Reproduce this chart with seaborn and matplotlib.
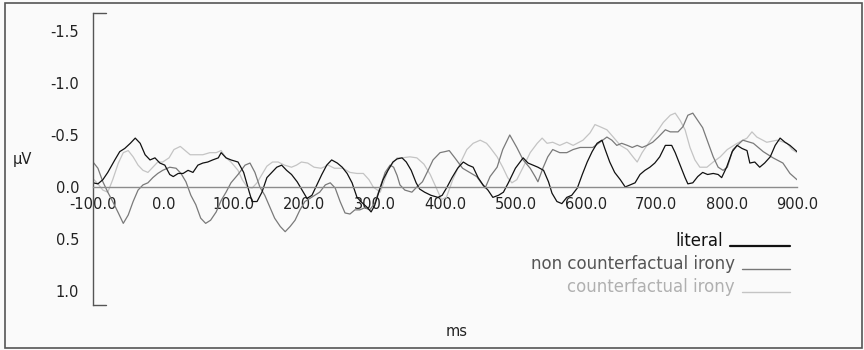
import numpy as np
import pandas as pd
import matplotlib
matplotlib.use("Agg")
import matplotlib.pyplot as plt
import seaborn as sns
from matplotlib.patches import Rectangle
from matplotlib.lines import Line2D

# ---- data ----
series_names = ["literal", "non counterfactual irony", "counterfactual irony"]

literal_ms = [-100, -93, -86, -79, -69, -62, -55, -47, -40, -33, -26, -19, -12, -5, 2, 9, 14, 21, 28, 35,
              42, 49, 56, 63, 70, 78, 82, 89, 96, 106, 114, 122, 126, 133, 140, 147, 154, 161, 168, 175,
              182, 190, 197, 204, 211, 218, 225, 232, 239, 247, 254, 261, 268, 275, 282, 290, 295, 300,
              306, 312, 319, 326, 332, 339, 345, 352, 359, 364, 371, 380, 390, 396, 403, 410, 418, 426,
              433, 440, 447, 454, 461, 468, 476, 483, 490, 500, 511, 518, 532, 540, 547, 552, 559, 566,
              573, 580, 588, 595, 602, 609, 616, 623, 627, 634, 641, 649, 656, 663, 670, 677, 684, 691,
              698, 705, 713, 722, 727, 734, 741, 745, 752, 759, 766, 773, 781, 788, 793, 800, 808, 815,
              822, 829, 833, 840, 847, 854, 862, 869, 876, 883, 890, 900]
literal_uv = [-0.04, -0.03, -0.07, -0.14, -0.26, -0.34, -0.37, -0.42, -0.47, -0.42, -0.31, -0.26, -0.28,
              -0.23, -0.21, -0.12, -0.10, -0.13, -0.13, -0.16, -0.14, -0.21, -0.23, -0.24, -0.26, -0.28,
              -0.33, -0.28, -0.26, -0.24, -0.14, 0.05, 0.14, 0.14, 0.05, -0.09, -0.14, -0.19, -0.21, -0.16,
              -0.12, -0.05, 0.03, 0.11, 0.08, -0.02, -0.12, -0.21, -0.26, -0.23, -0.19, -0.13, -0.04, 0.10,
              0.15, 0.20, 0.24, 0.18, 0.05, -0.07, -0.16, -0.24, -0.27, -0.28, -0.24, -0.16, -0.04, 0.02,
              0.05, 0.08, 0.10, 0.08, 0.00, -0.09, -0.18, -0.24, -0.21, -0.19, -0.09, -0.02, 0.03, 0.10,
              0.08, 0.05, -0.04, -0.18, -0.28, -0.23, -0.19, -0.16, -0.05, 0.06, 0.14, 0.16, 0.10, 0.08,
              0.01, -0.12, -0.24, -0.34, -0.42, -0.45, -0.37, -0.24, -0.14, -0.07, 0.00, -0.02, -0.04,
              -0.12, -0.16, -0.19, -0.23, -0.29, -0.40, -0.40, -0.33, -0.21, -0.09, -0.03, -0.04, -0.10,
              -0.14, -0.12, -0.13, -0.12, -0.09, -0.19, -0.34, -0.40, -0.37, -0.35, -0.23, -0.24, -0.19,
              -0.23, -0.29, -0.40, -0.47, -0.43, -0.40, -0.34]

noncf_ms = [-100, -93, -86, -79, -72, -64, -57, -50, -43, -36, -29, -22, -15, -8, -1, 9, 18, 25, 32, 39,
            46, 53, 60, 67, 75, 82, 89, 96, 106, 116, 123, 130, 137, 144, 151, 158, 166, 173, 180, 187,
            194, 201, 208, 215, 222, 230, 237, 244, 251, 258, 265, 272, 279, 286, 293, 300, 308, 315, 322,
            327, 332, 336, 343, 353, 360, 368, 376, 383, 393, 400, 406, 414, 425, 445, 457, 464, 474, 482,
            492, 502, 511, 521, 528, 532, 539, 546, 553, 563, 573, 582, 592, 602, 610, 620, 630, 637, 644,
            651, 659, 666, 673, 680, 687, 695, 703, 713, 720, 731, 738, 745, 752, 759, 766, 774, 781, 788,
            795, 801, 809, 823, 838, 852, 866, 880, 890, 900]
noncf_uv = [-0.24, -0.18, -0.05, 0.05, 0.14, 0.25, 0.35, 0.27, 0.14, 0.03, -0.02, -0.04, -0.09, -0.13,
            -0.16, -0.19, -0.18, -0.13, -0.05, 0.08, 0.17, 0.30, 0.35, 0.32, 0.24, 0.13, 0.05, -0.04, -0.12,
            -0.21, -0.23, -0.14, 0.00, 0.08, 0.19, 0.30, 0.38, 0.43, 0.38, 0.32, 0.22, 0.14, 0.11, 0.08,
            0.05, -0.02, -0.04, 0.01, 0.14, 0.25, 0.26, 0.22, 0.22, 0.20, 0.22, 0.16, 0.00, -0.14, -0.21,
            -0.19, -0.11, -0.02, 0.03, 0.05, 0.00, -0.05, -0.16, -0.26, -0.33, -0.34, -0.35, -0.28, -0.18,
            -0.10, 0.01, -0.10, -0.19, -0.36, -0.50, -0.38, -0.26, -0.18, -0.10, -0.05, -0.18, -0.29,
            -0.36, -0.33, -0.33, -0.36, -0.38, -0.38, -0.38, -0.43, -0.48, -0.45, -0.40, -0.42, -0.40,
            -0.38, -0.40, -0.38, -0.40, -0.43, -0.48, -0.55, -0.53, -0.53, -0.58, -0.69, -0.71, -0.64,
            -0.57, -0.42, -0.29, -0.19, -0.16, -0.19, -0.36, -0.45, -0.42, -0.34, -0.28, -0.23, -0.13,
            -0.07]

cf_ms = [-100, -93, -86, -79, -72, -64, -57, -50, -43, -36, -29, -22, -15, -8, -1, 8, 15, 24, 31, 38, 47,
         56, 66, 75, 82, 89, 96, 106, 112, 119, 126, 133, 140, 147, 155, 163, 172, 182, 189, 196, 205, 214,
         224, 234, 243, 255, 265, 275, 284, 292, 298, 308, 319, 326, 332, 339, 350, 360, 370, 379, 389,
         395, 402, 411, 421, 431, 440, 450, 459, 464, 474, 482, 489, 495, 502, 511, 521, 531, 538, 545,
         553, 563, 573, 582, 596, 606, 613, 620, 630, 639, 649, 659, 667, 673, 680, 687, 694, 701, 710,
         720, 727, 734, 741, 748, 755, 762, 772, 781, 791, 801, 815, 829, 836, 843, 857, 872, 886, 893,
         900]
cf_uv = [-0.08, -0.03, 0.03, 0.05, -0.07, -0.23, -0.33, -0.35, -0.29, -0.21, -0.16, -0.14, -0.19, -0.24,
         -0.24, -0.28, -0.36, -0.39, -0.35, -0.31, -0.31, -0.31, -0.33, -0.33, -0.35, -0.28, -0.24, -0.16,
         -0.07, 0.00, 0.01, -0.04, -0.12, -0.20, -0.24, -0.24, -0.21, -0.19, -0.21, -0.24, -0.23, -0.19,
         -0.18, -0.21, -0.18, -0.18, -0.14, -0.13, -0.13, -0.07, 0.00, 0.05, -0.16, -0.23, -0.28, -0.28,
         -0.29, -0.28, -0.22, -0.12, 0.03, 0.12, 0.10, -0.07, -0.22, -0.36, -0.42, -0.45, -0.42, -0.38,
         -0.29, -0.19, -0.09, -0.04, -0.07, -0.19, -0.33, -0.42, -0.47, -0.42, -0.43, -0.40, -0.43, -0.40,
         -0.45, -0.52, -0.60, -0.58, -0.55, -0.48, -0.40, -0.36, -0.29, -0.24, -0.33, -0.40, -0.47, -0.53,
         -0.62, -0.69, -0.71, -0.64, -0.55, -0.38, -0.26, -0.19, -0.19, -0.24, -0.29, -0.36, -0.42, -0.47,
         -0.53, -0.48, -0.43, -0.45, -0.42, -0.36, -0.33]

x_ticks = [-100, 0, 100, 200, 300, 400, 500, 600, 700, 800, 900]
x_tick_labels = ["-100.0", "0.0", "100.0", "200.0", "300.0", "400.0", "500.0", "600.0", "700.0", "800.0", "900.0"]
y_ticks = [-1.5, -1.0, -0.5, 0.0, 0.5, 1.0]
y_tick_labels = ["-1.5", "-1.0", "-0.5", "0.0", "0.5", "1.0"]

# ---- build long table ----
df = pd.concat([
    pd.DataFrame({"ms": literal_ms, "uV": literal_uv, "cond": series_names[0]}),
    pd.DataFrame({"ms": noncf_ms, "uV": noncf_uv, "cond": series_names[1]}),
    pd.DataFrame({"ms": cf_ms, "uV": cf_uv, "cond": series_names[2]}),
], ignore_index=True)

sns.set_style("white")
plt.rcParams["font.family"] = ["DejaVu Sans"]
plt.rcParams["axes.unicode_minus"] = False

W, H = 864, 350
fig = plt.figure(figsize=(W / 100, H / 100), dpi=100, facecolor="#fafafa")
ax = fig.add_axes([93 / W, 1 - 305 / H, 704 / W, 292 / H])
ax.set_facecolor("none")

palette = {series_names[0]: "#111111", series_names[1]: "#7a7a7a", series_names[2]: "#c4c4c4"}
sns.lineplot(data=df, x="ms", y="uV", hue="cond", hue_order=series_names[::-1], palette=palette,
             estimator=None, sort=True, linewidth=0.9, legend=False, ax=ax)

ax.set_xlim(-100, 900)
ax.set_ylim(1.135, -1.673)

# spines
for s in ["top", "right"]:
    ax.spines[s].set_visible(False)
ax.spines["left"].set_color("#555555")
ax.spines["left"].set_linewidth(1.0)
ax.spines["bottom"].set_position(("data", 0))
ax.spines["bottom"].set_color("#8c8c8c")
ax.spines["bottom"].set_linewidth(1.0)

# caps on the y spine
for yy in (0, 1):
    ax.plot([0, 13 / 704], [yy, yy], transform=ax.transAxes, color="#555555", lw=1.0, clip_on=False)

ax.set_xticks(x_ticks)
ax.set_xticklabels(x_tick_labels)
ax.set_yticks(y_ticks)
ax.set_yticklabels(y_tick_labels)
ax.tick_params(axis="x", direction="in", length=6, width=1.0, color="#444444", pad=7,
               labelsize=10.5, labelcolor="#222222")
ax.tick_params(axis="y", direction="out", length=9, width=1.0, color="#555555", pad=1,
               labelsize=10.5, labelcolor="#222222")
ax.set_xlabel("")
ax.set_ylabel("")

# axis titles
fig.text(22 / W, 1 - 160 / H, "µV", fontsize=10.5, color="#222222", ha="center", va="center")
fig.text(457 / W, 1 - 331 / H, "ms", fontsize=10.5, color="#222222", ha="center", va="center")

# legend (text + short line)
leg_rows = [
    (series_names[0], 723, 241, 246, 730, "#111111", 1.6, "#111111"),
    (series_names[1], 735, 264, 269, 742, "#777777", 1.0, "#555555"),
    (series_names[2], 735, 287, 292, 742, "#c4c4c4", 1.0, "#b0b0b0"),
]
for name, xr, yt, yl, xl0, lc, lw, tc in leg_rows:
    fig.text(xr / W, 1 - yt / H, name, fontsize=12, color=tc, ha="right", va="center")
    fig.add_artist(Line2D([xl0 / W, 790 / W], [1 - yl / H, 1 - yl / H], color=lc, lw=lw,
                          transform=fig.transFigure))

# outer border
fig.add_artist(Rectangle((5 / W, 2 / H), 857 / W, 345 / H, transform=fig.transFigure,
                         fill=False, edgecolor="#555555", lw=1.2))

fig.savefig("out.png", dpi=100, facecolor=fig.get_facecolor())
